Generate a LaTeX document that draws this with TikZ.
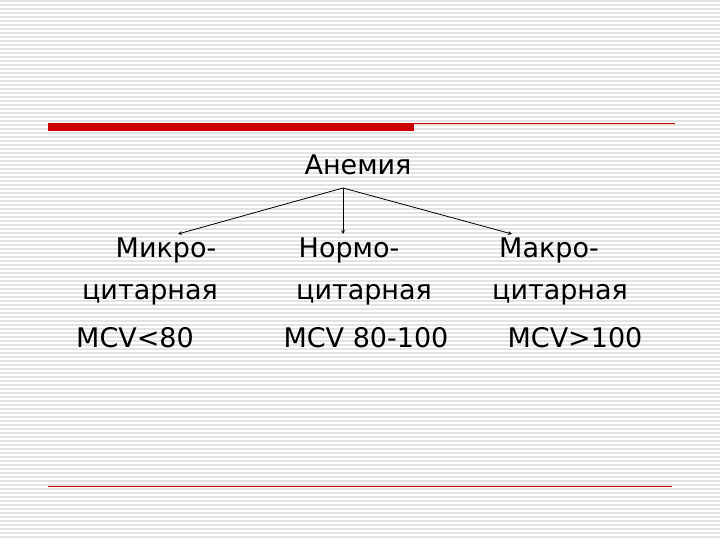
\documentclass[tikz,border=0pt]{standalone}
\usepackage{fontspec}
\setmainfont{DejaVu Sans}
\begin{document}
\begin{tikzpicture}[x=1pt,y=-1pt,
  txt/.style={font=\fontsize{27}{30}\selectfont, inner sep=0pt, anchor=center},
  arr/.style={-stealth, line width=0.8pt}]
\useasboundingbox (0,0) rectangle (720,540);
\fill[white] (0,0) rectangle (720,540);
\foreach \y in {1,5,...,539} \draw[gray!22, line width=1.3pt] (0,\y) -- (720,\y);
\fill[red!80!black] (48,123) rectangle (414,131);
\draw[red!80!black, line width=0.6pt] (414,123.5) -- (675,123.5);
\draw[red!80!black, line width=0.6pt] (48,486) -- (672,486);
\node[txt] (an) at (358,165) {Анемия};
\coordinate (top) at (343,188);
\node[txt] (l1) at (166,250) {Микро-};
\node[txt] (l2) at (150,295) {цитарная};
\node[txt] (l3) at (135,338) {MCV<80};
\node[txt] (m1) at (349,250) {Нормо-};
\node[txt] (m2) at (364,295) {цитарная};
\node[txt] (m3) at (366,338) {MCV 80-100};
\node[txt] (r1) at (549,250) {Макро-};
\node[txt] (r2) at (560,295) {цитарная};
\node[txt] (r3) at (575,338) {MCV>100};
\draw[arr] (top) -- (178,234);
\draw[arr] (top) -- (343,234);
\draw[arr] (top) -- (512,234);
\end{tikzpicture}
\end{document}
